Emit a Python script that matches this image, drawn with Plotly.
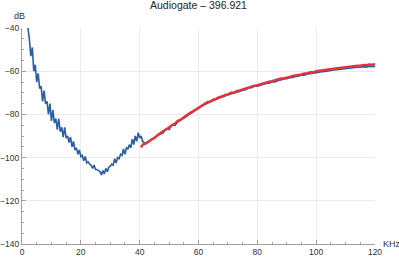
import plotly.graph_objects as go

title_text = "Audiogate – 396.921"

blue_x = [2.0, 2.5, 3.0, 3.5, 4.0, 4.5, 5.0, 5.5, 6.0, 6.5, 7.0, 7.5, 8.0, 8.5, 9.0, 9.5,
          10.0, 10.5, 11.0, 11.5, 12.0, 12.5, 13.0, 13.5, 14.0, 14.5, 15.0, 15.5, 16.0, 16.5,
          17.0, 17.5, 18.0, 18.5, 19.0, 19.5, 20.0, 20.5, 21.0, 21.5, 22.0, 22.5, 23.0, 23.5,
          24.0, 24.5, 25.0, 25.5, 26.0, 26.5, 27.0, 27.5, 28.0, 28.5, 29.0, 29.5, 30.0, 30.5,
          31.0, 31.5, 32.0, 32.5, 33.0, 33.5, 34.0, 34.5, 35.0, 35.5, 36.0, 36.5, 37.0, 37.5,
          38.0, 38.5, 39.0, 39.5, 40.0, 40.5, 41,
          42, 43, 44, 45, 46, 47, 48, 49, 50, 51, 52, 53, 54, 55, 56, 57, 58, 59, 60,
          61, 62, 63, 64, 65, 66, 67, 68, 69, 70, 71, 72, 73, 74, 75, 76, 77, 78, 79, 80,
          81, 82, 83, 84, 85, 86, 87, 88, 89, 90, 91, 92, 93, 94, 95, 96, 97, 98, 99, 100,
          101, 102, 103, 104, 105, 106, 107, 108, 109, 110, 111, 112, 113, 114, 115, 116,
          117, 118, 119, 120]
blue_y = [-40, -45, -53, -49, -60, -57, -65, -61, -68, -67, -74, -69, -75, -74, -80, -75,
          -83, -78, -84, -82, -87, -82, -88, -86, -90.5, -86, -91, -90, -93, -90.5,
          -95, -92.5, -96.5, -95.5, -98.5, -96.5, -99.5, -99, -101.5, -99.5, -102.5, -102, -103, -103.5,
          -105, -103.5, -105.5, -105.5, -106, -106.5, -108, -106, -107.5, -105, -106.5, -104.5, -104, -103,
          -103.5, -100.5, -102.5, -100, -100.5, -98.5, -99, -96, -98.5, -95.5, -96, -94, -95.5, -91.5,
          -94, -90, -92.5, -88.5, -91, -90, -92.5,
          -93.5, -92.8, -91.6, -91.2, -89.6, -89.2, -88.5, -86.6, -87.0, -84.8, -85.1, -83.4, -82.6,
          -81.6, -80.9, -79.8, -78.9, -78.1, -77.0,
          -76.3, -75.5, -74.9, -74.2, -73.6, -73.0, -72.4, -72.0, -71.3, -70.9, -70.6, -70.0, -69.7,
          -69.4, -68.8, -68.6, -67.8, -67.7, -67.0, -67.0,
          -66.5, -66.2, -65.7, -65.6, -64.9, -65.0, -64.3, -64.1, -63.6, -63.5, -63.0, -62.9, -62.4,
          -62.3, -61.8, -61.8, -61.3, -61.2, -60.9, -60.8,
          -60.5, -60.2, -60.1, -59.8, -59.7, -59.4, -59.3, -59.1, -58.9, -58.8, -58.6, -58.5, -58.4,
          -58.2, -58.2, -57.9, -58.1, -57.7, -57.9, -57.8]

red_x = [40.5, 41, 42, 43, 44, 45, 46, 47, 48, 49, 50, 51, 52, 53, 54, 55, 56, 57, 58, 59, 60,
         61, 62, 63, 64, 65, 66, 67, 68, 69, 70, 71, 72, 73, 74, 75, 76, 77, 78, 79, 80,
         81, 82, 83, 84, 85, 86, 87, 88, 89, 90, 91, 92, 93, 94, 95, 96, 97, 98, 99, 100,
         101, 102, 103, 104, 105, 106, 107, 108, 109, 110, 111, 112, 113, 114, 115, 116,
         117, 118, 119, 120]
red_y = [-95.3, -94.0, -93.5, -92.4, -91.6, -90.8, -89.7, -88.9, -87.7, -87.0, -85.9, -85.0,
         -84.2, -83.0, -82.4, -81.3, -80.6, -79.4, -78.7, -77.8, -77.0,
         -75.9, -75.4, -74.3, -74.0, -73.1, -72.8, -72.0, -71.7, -71.0, -70.8, -70.0, -69.9,
         -69.2, -68.9, -68.4, -68.0, -67.5, -67.1, -66.7, -66.5,
         -66.0, -65.6, -65.3, -64.8, -64.6, -64.1, -63.9, -63.4, -63.3, -62.8, -62.6, -62.2,
         -62.0, -61.6, -61.5, -61.0, -61.0, -60.5, -60.5, -60.0,
         -59.9, -59.6, -59.4, -59.2, -59.0, -58.8, -58.6, -58.4, -58.3, -58.0, -58.0, -57.7,
         -57.7, -57.4, -57.4, -57.1, -57.2, -56.9, -57.0, -56.8]

x_ticks = [0, 20, 40, 60, 80, 100, 120]
y_ticks = [-140, -120, -100, -80, -60, -40]

FONT = "Liberation Sans, Arial, sans-serif"

fig = go.Figure()
fig.add_trace(go.Scatter(x=blue_x, y=blue_y, mode="lines",
                         line=dict(color="#2B5CA6", width=1.6), showlegend=False))
fig.add_trace(go.Scatter(x=red_x, y=red_y, mode="lines",
                         line=dict(color="#E8303A", width=2.4), showlegend=False))

axis_common = dict(
    showline=True, linecolor="#A0A0A0", linewidth=1,
    ticks="inside", ticklen=4, tickcolor="#A0A0A0", tickwidth=1,
    showgrid=True, gridcolor="#EBEBEB", gridwidth=1,
    zeroline=False, mirror=False, automargin=False,
    tickfont=dict(family=FONT, size=8.5, color="#333333"),
    minor=dict(ticks="inside", ticklen=2, tickcolor="#A0A0A0", dtick=5, showgrid=False),
)

fig.update_xaxes(range=[0, 120], tickvals=x_ticks, **axis_common)
fig.update_yaxes(range=[-140, -40], tickvals=y_ticks, **axis_common)

fig.update_layout(
    width=399, height=257,
    margin=dict(l=22, r=24, t=28, b=13),
    paper_bgcolor="white", plot_bgcolor="white",
    font=dict(family=FONT, size=9, color="#333333"),
    title=dict(text=title_text, x=0.5, xref="paper", y=0.995, yanchor="top",
               font=dict(family=FONT, size=10.5, color="#222222")),
    annotations=[
        dict(text="dB", xref="paper", yref="paper", x=0, y=1, xanchor="center",
             yanchor="bottom", yshift=5, xshift=-3, showarrow=False,
             font=dict(family=FONT, size=9, color="#333333")),
        dict(text="KHz", xref="paper", yref="paper", x=1, y=0, xanchor="left",
             yanchor="middle", xshift=6, showarrow=False,
             font=dict(family=FONT, size=9, color="#333333")),
    ],
)

fig.write_html("out.html")
